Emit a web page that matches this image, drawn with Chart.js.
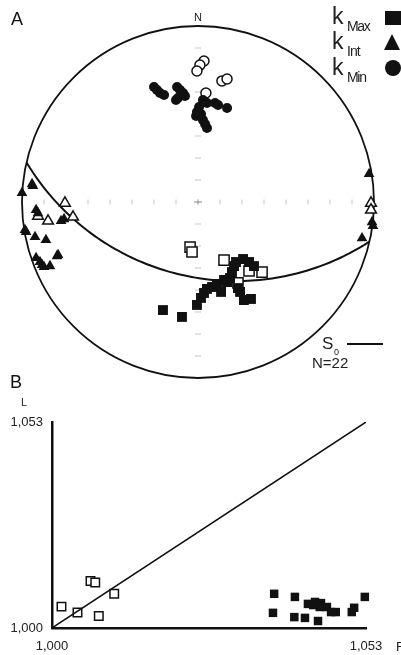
<!DOCTYPE html>
<html>
<head>
<meta charset="utf-8">
<script src="https://cdn.jsdelivr.net/npm/chart.js@4.4.1/dist/chart.umd.min.js"></script>
<style>
  html,body{margin:0;padding:0;background:#fff;overflow:hidden;}
  #wrap{position:relative;width:401px;height:655px;font-family:"Liberation Sans",Arial,sans-serif;color:#222;}
  canvas{position:absolute;left:0;}
  .t{position:absolute;line-height:1;white-space:nowrap;}
  .sym{position:absolute;}
</style>
</head>
<body>
<div id="wrap">
  <canvas id="c1" width="401" height="390" style="top:0"></canvas>
  <canvas id="c2" width="401" height="275" style="top:380px"></canvas>

  <div class="t" style="left:11px;top:10px;font-size:18px;color:#111">A</div>
  <div class="t" style="left:188px;top:12px;width:20px;text-align:center;font-size:11px">N</div>

  <div class="t" style="left:332px;top:5px;font-size:23px">k</div>
  <div class="t" style="left:347px;top:19px;font-size:14px;letter-spacing:-1.3px">Max</div>
  <div class="t" style="left:332px;top:30px;font-size:23px">k</div>
  <div class="t" style="left:347px;top:44px;font-size:14px;letter-spacing:-1px">Int</div>
  <div class="t" style="left:332px;top:56px;font-size:23px">k</div>
  <div class="t" style="left:347px;top:70px;font-size:14px;letter-spacing:-1.3px">Min</div>
  <div class="sym" style="left:385px;top:11px;width:16px;height:14px;background:#111"></div>
  <div class="sym" style="left:384px;top:34px;width:0;height:0;border-left:8px solid transparent;border-right:8px solid transparent;border-bottom:16px solid #111"></div>
  <div class="sym" style="left:385px;top:60px;width:16px;height:16px;border-radius:50%;background:#111"></div>

  <div class="t" style="left:322px;top:335px;font-size:17px">S</div>
  <div class="t" style="left:334px;top:348px;font-size:9px">0</div>
  <div class="sym" style="left:347px;top:343px;width:36px;height:1.6px;background:#111"></div>
  <div class="t" style="left:312px;top:355px;font-size:15px">N=22</div>

  <div class="t" style="left:10px;top:373px;font-size:18px;color:#111">B</div>
  <div class="t" style="left:21px;top:397px;font-size:11px">L</div>
  <div class="t" style="left:396px;top:640px;font-size:13px">F</div>
</div>
<script>
// ---------- A: stereonet data (projected coordinates, unit = net radius; x = East, y = North) ----------
const kMaxX = [-0.199,-0.091,-0.006,0.017,0.034,0.051,0.080,0.108,0.131,0.165,0.182,0.193,0.205,0.216,0.256,0.290,0.318,0.227,0.239,0.261,0.301,0.148];
const kMaxY = [-0.614,-0.653,-0.585,-0.545,-0.517,-0.494,-0.483,-0.466,-0.511,-0.455,-0.432,-0.398,-0.364,-0.341,-0.324,-0.341,-0.364,-0.489,-0.511,-0.557,-0.551,-0.443];
const kIntX = [-0.943,-1.0,-0.920,-0.909,-0.761,-0.983,-0.926,-0.864,-0.795,-0.920,-0.898,-0.886,-0.841,-0.875,0.972,0.989,0.994,0.932,-0.938,-0.778,-0.977,-0.801];
const kIntY = [0.102,0.051,-0.045,-0.063,-0.097,-0.159,-0.199,-0.216,-0.301,-0.318,-0.341,-0.358,-0.364,-0.369,0.159,-0.114,-0.136,-0.205,0.091,-0.108,-0.170,-0.307];
const kMinX = [-0.250,-0.233,-0.216,-0.193,-0.119,-0.102,-0.085,-0.114,-0.125,0.028,0.051,0.097,0.114,0.165,-0.006,0.017,-0.011,0.028,0.040,0.051,0.006,-0.074];
const kMinY = [0.653,0.636,0.619,0.608,0.653,0.636,0.619,0.591,0.580,0.580,0.563,0.563,0.551,0.534,0.511,0.500,0.489,0.466,0.443,0.420,0.540,0.602];
// open symbols
const oMaxX = [-0.045,-0.034,0.148,0.290,0.364,0.227];
const oMaxY = [-0.256,-0.284,-0.330,-0.392,-0.398,-0.460];
const oIntX = [-0.756,-0.710,-0.909,-0.852,0.983,0.983];
const oIntY = [-0.006,-0.085,-0.080,-0.108,-0.006,-0.045];
const oMinX = [0.034,0.011,-0.006,0.136,0.165,0.045];
const oMinY = [0.801,0.778,0.744,0.688,0.699,0.619];
// bedding plane S0 (strike, dip; right-hand rule)
const s0Strike = 103;
const s0Dip = 44;
// net graticule tick values
const netTicks = [-0.875,-0.75,-0.625,-0.5,-0.375,-0.25,-0.125,0.125,0.25,0.375,0.5,0.625,0.75,0.875];

// ---------- B: L vs F ----------
const openF = [1.0016,1.0043,1.0065,1.0073,1.0079,1.0105];
const openL = [1.0055,1.0040,1.0121,1.0117,1.0031,1.0088];
const fillF = [1.0375,1.0373,1.0410,1.0409,1.0427,1.0449,1.0432,1.0441,1.0444,1.0454,1.0452,1.0464,1.0471,1.0479,1.0506,1.0510,1.0528];
const fillL = [1.0088,1.0039,1.0080,1.0028,1.0026,1.0018,1.0062,1.0059,1.0067,1.0064,1.0054,1.0054,1.0041,1.0041,1.0041,1.0052,1.0080];
const axisTicks = [1.000, 1.053];

const pts = (xs, ys) => xs.map((v, i) => ({x: v, y: ys[i]}));
const D = Math.PI / 180;

// great circle of a plane, lower hemisphere, equal-angle (stereographic) projection
function greatCircle(strike, dip) {
  const s = [Math.sin(strike*D), Math.cos(strike*D), 0];
  const dd = (strike + 90) * D;
  const d = [Math.cos(dip*D)*Math.sin(dd), Math.cos(dip*D)*Math.cos(dd), Math.sin(dip*D)];
  const out = [];
  for (let t = 0; t <= 180; t += 2) {
    const c = Math.cos(t*D), sn = Math.sin(t*D);
    const v = [c*s[0]+sn*d[0], c*s[1]+sn*d[1], c*s[2]+sn*d[2]];
    const plunge = Math.asin(Math.max(0, Math.min(1, v[2])));
    const trend = Math.atan2(v[0], v[1]);
    const r = Math.tan((Math.PI/2 - plunge) / 2);
    out.push({x: r*Math.sin(trend), y: r*Math.cos(trend)});
  }
  return out;
}

const netPlugin = {
  id: 'net',
  beforeDatasetsDraw(chart) {
    const {ctx, scales: {x, y}} = chart;
    const cx = x.getPixelForValue(0), cy = y.getPixelForValue(0);
    const r = x.getPixelForValue(1) - cx;
    ctx.save();
    ctx.strokeStyle = '#c4c4c4';
    ctx.lineWidth = 1;
    for (const v of netTicks) {
      const px = x.getPixelForValue(v);
      ctx.beginPath(); ctx.moveTo(px, cy - 2.5); ctx.lineTo(px, cy + 2.5); ctx.stroke();
      const py = y.getPixelForValue(v);
      ctx.beginPath(); ctx.moveTo(cx - 3, py); ctx.lineTo(cx + 3, py); ctx.stroke();
    }
    ctx.strokeStyle = '#888';
    ctx.beginPath(); ctx.moveTo(cx - 4, cy); ctx.lineTo(cx + 4, cy); ctx.stroke();
    ctx.beginPath(); ctx.moveTo(cx, cy - 2.5); ctx.lineTo(cx, cy + 2.5); ctx.stroke();
    ctx.strokeStyle = '#111';
    ctx.lineWidth = 1.8;
    ctx.beginPath(); ctx.arc(cx, cy, r, 0, Math.PI * 2); ctx.stroke();
    ctx.restore();
  }
};

const filled = (label, data, style, radius) => ({
  label, data, pointStyle: style, pointRadius: radius, pointHoverRadius: radius,
  backgroundColor: '#111', borderColor: '#111', borderWidth: 0, clip: false
});
const open = (label, data, style, radius) => ({
  label, data, pointStyle: style, pointRadius: radius, pointHoverRadius: radius,
  backgroundColor: '#fff', borderColor: '#111', borderWidth: 1.5, clip: false
});

new Chart(document.getElementById('c1'), {
  type: 'scatter',
  data: {
    datasets: [
      {label: 'S0', data: greatCircle(s0Strike, s0Dip), showLine: true, pointRadius: 0,
       borderColor: '#111', borderWidth: 2, clip: false, order: 10},
      filled('kMax', pts(kMaxX, kMaxY), 'rect', 7),
      open('kMax (open)', pts(oMaxX, oMaxY), 'rect', 7.2),
      filled('kInt', pts(kIntX, kIntY), 'triangle', 6.2),
      open('kInt (open)', pts(oIntX, oIntY), 'triangle', 6.2),
      filled('kMin', pts(kMinX, kMinY), 'circle', 5),
      open('kMin (open)', pts(oMinX, oMinY), 'circle', 5)
    ]
  },
  options: {
    responsive: false, animation: false, maintainAspectRatio: false,
    layout: {padding: {left: 22, top: 26, right: 27, bottom: 12}},
    scales: {
      x: {type: 'linear', min: -1, max: 1, display: false},
      y: {type: 'linear', min: -1, max: 1, display: false}
    },
    plugins: {legend: {display: false}, tooltip: {enabled: false}}
  },
  plugins: [netPlugin]
});

const fmt = v => v.toFixed(3).replace('.', ',');
const tickFont = {family: '"Liberation Sans", Arial, sans-serif', size: 13};

new Chart(document.getElementById('c2'), {
  type: 'scatter',
  data: {
    datasets: [
      {label: 'L = F', data: [{x: axisTicks[0], y: axisTicks[0]}, {x: axisTicks[1], y: axisTicks[1]}],
       showLine: true, pointRadius: 0, borderColor: '#111', borderWidth: 1.5},
      open('open', pts(openF, openL), 'rect', 6),
      filled('filled', pts(fillF, fillL), 'rect', 6)
    ]
  },
  options: {
    responsive: false, animation: false, maintainAspectRatio: false,
    layout: {padding: {left: 0, top: 42, right: 35, bottom: 0}},
    scales: {
      x: {
        type: 'linear', min: axisTicks[0], max: axisTicks[1],
        afterBuildTicks: s => { s.ticks = axisTicks.map(v => ({value: v})); },
        afterFit: s => { s.height = 27; },
        grid: {display: false, drawTicks: false},
        border: {display: true, color: '#111', width: 2.5},
        ticks: {padding: 11, maxRotation: 0, autoSkip: false, color: '#222', font: tickFont, callback: v => fmt(v)}
      },
      y: {
        type: 'linear', min: axisTicks[0], max: axisTicks[1],
        afterBuildTicks: s => { s.ticks = axisTicks.map(v => ({value: v})); },
        afterFit: s => { s.width = 52; },
        grid: {display: false, drawTicks: false},
        border: {display: true, color: '#111', width: 2.5},
        ticks: {padding: 9, autoSkip: false, color: '#222', font: tickFont, callback: v => fmt(v)}
      }
    },
    plugins: {legend: {display: false}, tooltip: {enabled: false}}
  }
});
</script>
</body>
</html>
